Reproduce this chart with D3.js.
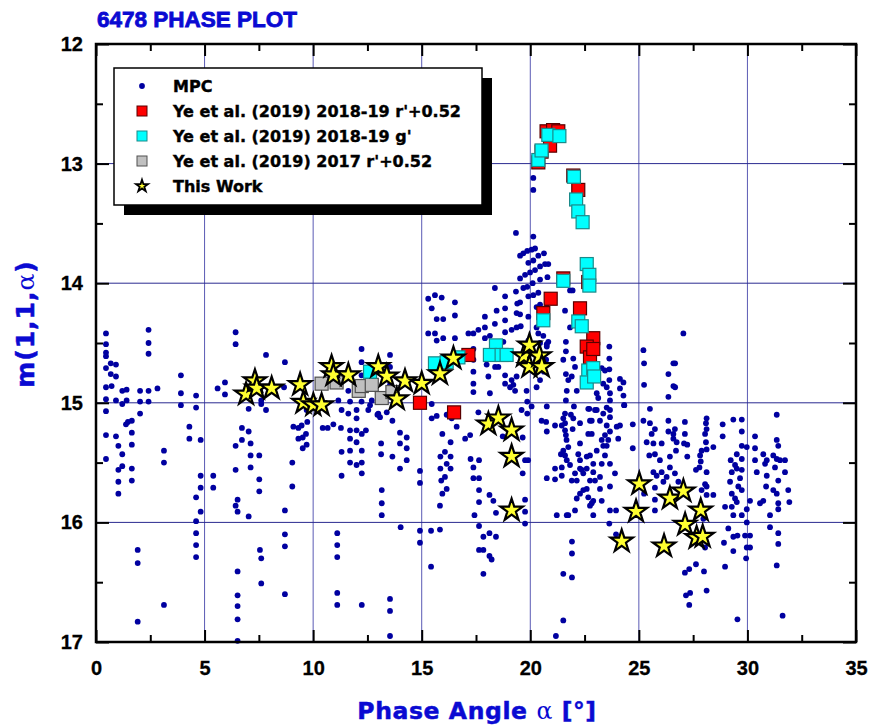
<!DOCTYPE html>
<html>
<head>
<meta charset="utf-8">
<script src="https://cdn.jsdelivr.net/npm/d3@7"></script>
<style>
  body { margin: 0; background: #fff; }
  text { font-family: "Liberation Sans", Arial, sans-serif; font-weight: bold; }
  .heavy { font-family: "DejaVu Sans", sans-serif; font-weight: bold; }
</style>
</head>
<body>
<div id="chart"></div>
<script>
const width = 872;
const height = 727;

// MPC observations [phase angle, reduced mag]
const mpc = [
  [0.46,14.42],[0.46,14.51],[0.46,14.58],[0.46,14.61],[0.46,14.71],[0.46,14.87],[0.46,14.97],[0.46,15.07],[0.46,15.27],[0.46,15.47],
  [0.68,14.67],[0.92,14.68],[0.68,14.76],[0.92,14.78],[0.72,14.86],[0.92,14.98],[0.92,15.28],[1.03,15.36],[1.03,15.56],[1.03,15.66],
  [1.03,15.76],[1.21,15.43],[1.21,15.53],[1.21,15.01],[1.21,14.90],[1.41,14.89],[1.41,14.98],[1.38,15.18],[1.47,15.16],[1.65,15.15],
  [1.65,15.25],[1.65,15.35],[1.65,15.55],[1.65,15.65],[2.03,14.90],[2.03,14.99],[2.03,15.09],[1.92,16.23],[1.92,16.34],[1.92,16.83],
  [2.42,14.39],[2.42,14.50],[2.42,14.59],[2.42,14.90],[2.42,14.99],[2.83,14.88],[3.13,15.40],[3.13,15.50],[3.13,16.69],
  [3.91,14.77],[3.91,14.92],[3.91,15.02],[4.30,15.20],[4.30,15.30],[4.61,14.94],[4.61,15.04],[4.82,15.31],[4.82,15.61],[4.82,15.71],
  [4.82,15.91],[4.61,15.79],[4.61,15.99],[4.61,16.09],[4.61,16.19],[4.61,16.29],[5.40,15.61],[5.40,15.71],[5.60,14.88],[5.94,14.83],[5.94,14.93],
  [6.43,14.41],[6.43,14.51],[6.43,15.36],[6.43,15.56],[6.43,15.86],[6.52,15.81],[6.52,15.91],[6.52,16.41],[6.52,16.61],[6.52,16.70],
  [6.52,16.81],[6.52,16.99],[6.72,15.21],[6.72,15.31],[7.03,15.05],[7.03,15.24],[7.12,15.34],[7.12,15.44],[7.12,15.54],[7.03,15.95],
  [7.52,15.44],[7.52,15.64],[7.52,15.74],[7.61,14.98],[7.61,15.01],[7.83,14.60],[7.83,15.06],[7.55,16.23],[7.61,16.30],[7.61,16.51],
  [8.70,14.66],[8.70,15.90],[8.70,16.10],[8.70,16.20],[8.70,16.60],[8.66,14.87],
  [9.04,15.50],[9.04,15.70],[9.09,15.20],[9.32,15.21],[9.47,15.19],[9.32,15.30],[9.52,15.29],[9.67,15.26],[9.73,15.16],[9.52,15.38],[9.70,15.35],[9.70,15.06],
  [10.44,15.21],[10.67,15.21],[10.93,15.18],[11.28,15.21],[11.31,15.41],[11.31,15.61],[11.11,16.09],[11.11,16.19],[11.11,16.29],[11.11,16.59],[11.11,16.69],
  [11.70,15.23],[11.70,15.30],[11.70,15.40],[11.70,15.50],[12.00,15.13],[12.00,15.23],[12.00,15.33],[12.00,15.52],[12.24,15.26],[12.24,15.40],
  [12.24,15.50],[12.24,15.59],[12.43,15.23],[12.24,16.69],
  [12.96,15.10],[13.13,15.34],[13.13,15.43],[13.16,15.73],[13.16,15.84],[13.16,15.94],[13.54,16.64],[13.54,16.74],[13.54,16.95],[13.65,15.15],
  [13.65,15.45],[14.00,15.25],[14.00,15.34],[14.00,15.55],[14.31,15.29],[14.31,15.38],[14.31,15.48],[14.03,16.04],
  [14.92,15.57],[14.92,15.67],[14.92,16.07],[14.92,16.17],[15.43,16.07],[15.43,16.37],[15.46,15.01],[15.84,16.06],[15.84,15.86],[15.95,15.26],
  [15.86,15.45],[15.86,15.55],[15.90,15.65],[15.95,15.76],[16.07,15.41],[16.15,15.51],[16.07,15.62],[16.15,15.72],[16.33,15.33],[16.33,15.45],
  [16.33,15.55],[16.15,15.10],[16.61,15.20],[17.00,15.30],[17.23,15.27],
  [17.25,15.47],[17.38,15.54],[17.38,15.63],[17.61,15.08],[17.64,15.48],[17.64,15.63],[17.64,15.73],[17.64,15.83],[17.43,15.94],
  [17.64,16.03],[17.64,16.23],[17.84,16.23],[17.84,16.43],[17.84,16.12],
  [18.12,15.77],[18.30,15.82],[18.12,16.09],[18.42,16.12],[18.12,16.28],[18.22,16.31],[18.42,15.92],[19.22,14.85],[18.73,15.28],
  [19.76,15.48],[19.65,15.59],[19.76,15.81],[19.76,15.91],[19.76,16.01],[20.06,15.03],[20.76,15.03],[20.76,15.24],[20.52,15.15],[20.73,15.16],
  [20.76,15.63],[21.14,15.64],[21.22,15.94],[21.68,15.94],[21.18,16.95],[21.52,16.43],[21.52,16.82],[21.92,16.16],[21.92,16.26],[21.92,16.46],
  [19.65,15.29],[19.90,15.48],
  [21.14,15.19],[21.45,15.19],[21.60,15.17],[21.52,15.13],[21.60,15.23],[21.64,15.27],[21.67,15.31],[21.75,15.37],[21.52,15.40],[21.41,15.43],
  [21.60,15.44],[21.68,15.48],[21.83,15.52],[21.45,15.54],[21.14,15.55],[21.45,15.61],[21.91,15.65],[22.14,15.65],[22.37,15.56],[22.29,15.48],
  [22.21,15.43],[22.29,15.34],[21.95,15.22],[21.98,15.13],[21.87,15.10],[22.29,15.17],[22.67,15.05],[23.06,15.06],[22.75,15.15],[22.67,15.26],
  [22.83,15.26],[23.21,15.15],[23.52,15.19],[23.67,15.12],[23.98,15.20],[24.13,15.19],[23.67,15.24],[23.44,15.27],[23.29,15.31],[23.36,15.36],
  [23.59,15.31],[23.52,15.36],[23.06,15.40],[22.75,15.44],[22.60,15.45],[22.90,15.51],[22.60,15.55],[22.29,15.55],[22.06,15.59],[22.44,15.59],
  [22.75,15.65],[22.90,15.58],[22.98,15.65],[23.21,15.62],[23.29,15.51],[23.67,15.51],[23.44,15.44],[24.05,15.30],[23.90,15.59],[23.67,15.70],
  [23.21,15.72],[23.29,15.82],[22.90,15.82],[22.75,15.86],[22.67,15.79],[22.60,15.72],[22.44,15.73],[22.29,15.76],[22.14,15.80],[22.06,15.90],
  [21.75,15.94],[22.90,15.94],[22.83,15.84],[23.67,15.90],[23.95,15.90],[23.64,16.01],[24.33,15.02],[24.72,15.18],[24.72,15.38],[25.21,15.15],
  [25.51,15.17],[25.74,15.22],[25.59,15.26],[25.36,15.33],[25.67,15.34],[25.74,15.43],[25.48,15.44],[25.97,15.48],[26.05,15.34],[26.36,15.24],
  [26.36,15.15],[26.59,15.26],[26.74,15.33],[26.71,15.40],[26.43,15.45],[25.67,15.58],[25.82,15.61],[26.05,15.58],[25.74,15.71],[25.74,15.81],
  [25.74,15.90],[26.13,15.66],[26.28,15.62],[26.43,15.54],[26.66,15.59],[26.82,15.66],[26.90,15.73],[26.28,15.82],[25.24,15.76],[23.95,16.10],
  [26.66,15.22],[26.59,15.30],
  [27.12,15.16],[27.12,15.26],[27.08,15.34],[27.23,15.35],[27.23,15.45],
  [28.12,15.13],[28.09,15.17],[28.12,15.22],[28.05,15.26],[28.09,15.33],[27.89,15.40],[27.82,15.44],[27.85,15.49],[27.79,15.54],[27.63,15.56],
  [28.12,15.39],[28.43,15.37],[28.12,15.58],[28.05,15.68],[28.12,15.70],[28.12,15.77],[28.43,15.77],[27.89,15.73],
  [28.86,15.18],[28.86,15.28],[29.35,15.14],[29.74,15.14],[29.74,15.24],[29.74,15.36],[29.97,15.37],[29.51,15.43],[29.74,15.47],[29.23,15.48],
  [29.43,15.52],[29.51,15.55],[29.74,15.56],[29.28,15.58],[29.20,15.66],[29.66,15.63],[29.58,15.70],[29.74,15.73],[29.28,15.76],[29.43,15.80],
  [29.51,15.83],[29.28,15.87],[28.97,15.87],[29.35,15.94],[29.74,15.94],[29.97,15.89],[29.97,16.00],[30.12,15.82],[30.35,15.28],[30.35,15.38],
  [30.35,15.48],[30.43,15.58],[30.73,15.43],[30.81,15.51],[30.89,15.61],[30.73,15.82],[30.58,15.84],[31.04,15.94],[30.86,15.70],[30.89,15.48],
  [31.35,15.10],[31.35,15.31],[31.42,15.36],[31.19,15.44],[31.35,15.47],[31.50,15.48],[31.27,15.54],[31.73,15.48],[31.73,15.58],[31.42,15.65],
  [31.19,15.73],[31.35,15.76],[31.42,15.84],[31.42,15.89],[31.88,15.73],[31.93,15.83],[31.04,16.04],[31.42,16.09],[31.42,16.18],[31.35,16.36],[31.62,16.78],
  [29.89,16.11],[29.97,16.21],[30.12,16.21],[29.94,16.30],[30.12,16.11],
  [29.12,16.05],[29.35,16.12],[29.54,16.11],[28.92,16.17],[29.35,16.24],[28.97,16.37],
  [28.05,16.21],[28.00,16.41],[28.12,16.57],[27.63,16.35],[27.32,16.39],[27.12,16.42],[27.36,16.59],[27.17,16.61],[27.32,16.69],[29.54,16.81],[27.97,15.97],
  [27.05,14.42],[25.21,14.56],[25.24,14.67],[25.24,14.85],[26.36,14.76],[26.59,14.67],[26.67,14.67],[26.59,14.86],[26.67,14.87],[26.36,14.95],
  [23.64,14.53],[23.64,14.63],[23.64,14.72],[23.64,14.81],[23.52,14.87],[23.67,14.92],[23.67,14.98],[23.52,15.04],
  [24.13,14.80],[24.29,14.83],[24.13,14.88],[24.29,14.94],[24.32,15.02],[25.51,15.05],[22.72,15.05],[22.98,15.06],[23.13,14.96],
  [19.34,13.58],[20.14,13.61],[19.53,13.77],[19.68,13.75],[19.86,13.73],[20.06,13.72],[20.22,13.71],[19.91,13.83],[20.14,13.81],[20.37,13.77],
  [20.63,13.75],[19.53,13.96],[19.76,13.93],[19.99,13.91],[20.22,13.89],[20.45,13.86],[20.68,13.84],[20.83,13.84],[19.68,14.04],[19.86,14.03],
  [20.11,14.00],[20.45,13.97],[20.79,13.95],[19.34,14.07],[19.53,14.16],[19.40,14.17],[19.91,14.11],[20.14,14.10],[20.37,14.08],[19.37,14.25],
  [19.53,14.26],[19.91,14.28],[20.29,14.20],[20.45,14.18],[20.76,14.20],[19.14,14.39],[19.37,14.37],[19.56,14.36],[20.29,14.37],[20.37,14.42],
  [20.60,14.44],[19.91,14.48],[20.45,14.50],[20.76,14.51],[18.84,14.11],[18.84,14.21],[18.84,14.31],[18.84,14.41],[18.76,14.49],[18.37,14.04],
  [18.45,14.23],[18.37,14.34],[18.14,14.44],[17.91,14.28],[17.91,14.37],[17.91,14.46],[17.61,14.39],[17.38,14.42],[17.15,14.42],
  [16.53,14.16],[16.53,14.27],[16.53,14.46],[17.38,14.55],[17.38,14.64],[17.38,14.74],[17.38,14.84],[17.38,14.91],[17.99,14.68],[18.38,14.70],
  [18.53,14.70],[18.07,14.78],[18.84,14.77],[18.84,14.84],[18.14,14.92],[19.07,14.87],[19.14,14.81],[19.37,14.78],[19.30,14.90],[19.83,14.90],
  [19.86,14.99],[19.86,15.09],[19.60,15.06],[20.83,14.49],[20.76,14.53],[20.73,14.64],[20.63,14.74],[20.45,14.81],[20.29,14.87],[21.60,14.23],
  [21.64,14.49],[21.64,14.57],[21.52,14.64],[21.64,14.76],[21.75,14.81],[21.68,14.90],[21.64,14.98],[21.60,15.09],[21.83,14.06],[21.95,14.06],
  [21.83,14.37],[21.98,14.63],[22.06,14.70],[21.91,14.78],[22.14,14.90],[22.01,15.03],[23.29,14.71],[23.44,14.73],[23.36,14.84],[23.06,14.92],
  [22.83,15.15],[23.36,15.09],[23.67,15.06],
  [15.30,14.13],[15.61,14.10],[15.92,14.12],[15.46,14.21],[15.69,14.30],[15.99,14.30],[15.30,14.42],[15.61,14.42],[15.69,14.48],[15.99,14.46],
  [12.23,14.55],[12.23,14.66],[13.54,14.60],[13.54,14.70],[12.23,14.77],[12.23,14.85],[11.62,14.90],[11.70,14.99],[11.31,15.06],[11.62,15.09],
  [12.00,15.06],[12.23,14.99],[12.62,15.02],[13.00,15.09],[13.39,15.08],[13.31,14.99],[13.54,14.95],[20.14,13.12],[20.14,13.22],
  [11.16,14.98],[12.54,15.06],[12.70,14.98],[13.54,14.85],[13.08,15.12],[15.46,15.13],[16.38,15.13],[15.69,15.11]
];

// Ye et al. (2019) 2018-19 r'+0.52
const yeR = [
  [20.37,12.99],[20.52,12.90],[20.75,12.73],[20.91,12.85],[21.05,12.72],[21.29,12.73],[21.98,13.10],[22.21,13.22],
  [21.52,13.96],[22.67,13.99],[20.94,14.13],[20.60,14.25],[22.29,14.21],[22.90,14.46],[22.60,14.53],[22.75,14.62],
  [22.90,14.55],[17.15,14.60],[14.92,15.00],[16.49,15.08]
];
// Ye et al. (2019) 2018-19 g'
const yeG = [
  [20.37,12.97],[20.52,12.89],[20.83,12.76],[21.34,12.77],[22.01,13.11],[22.11,13.30],[22.21,13.40],[22.41,13.49],
  [22.60,13.84],[22.72,13.93],[22.72,14.02],[21.52,13.98],[20.60,14.31],[22.21,14.32],[22.37,14.36],[22.67,14.73],
  [22.90,14.71],[22.60,14.83],[22.94,14.78],[18.42,14.52],[18.14,14.60],[18.68,14.60],[18.91,14.60],[15.61,14.67],
  [16.15,14.66],[16.69,14.62],[12.62,14.74]
];
// Ye et al. (2019) 2017 r'+0.52
const ye17 = [
  [10.39,14.84],[11.08,14.83],[12.10,14.90],[12.24,14.86],[12.70,14.85],[13.16,14.96],[13.65,14.91]
];
// This Work
const thisWork = [
  [6.91,14.92],[7.32,14.81],[7.40,14.87],[8.09,14.87],[9.40,14.84],[9.55,14.99],[10.01,15.01],[10.39,15.01],
  [10.85,14.69],[10.93,14.76],[11.62,14.76],[13.00,14.69],[13.39,14.77],[13.85,14.96],[14.23,14.81],[15.00,14.83],
  [15.84,14.75],[16.46,14.62],[18.07,15.17],[18.53,15.12],[19.14,15.22],[19.14,15.44],[19.14,15.89],[19.71,14.60],
  [19.96,14.51],[19.96,14.69],[20.42,14.60],[20.53,14.69],[24.21,16.15],[24.87,15.90],[25.02,15.67],[26.16,16.19],
  [26.43,15.79],[27.05,15.73],[27.13,16.01],[27.66,16.12],[27.85,15.89],[27.94,16.11]
];

const xTicks = [0, 5, 10, 15, 20, 25, 30, 35];
const yTicks = [12, 13, 14, 15, 16, 17];
const legendLabels = ["MPC", "Ye et al. (2019) 2018-19 r'+0.52", "Ye et al. (2019) 2018-19 g'", "Ye et al. (2019) 2017 r'+0.52", "This Work"];

const blue = "#0a0ad2";
const x = d3.scaleLinear().domain([0, 35]).range([96, 856]);
const y = d3.scaleLinear().domain([12, 17]).range([44, 642]);

const svg = d3.select("#chart").append("svg")
  .attr("width", width)
  .attr("height", height);

// grid
svg.append("g").selectAll("line")
  .data(xTicks.slice(1, -1))
  .join("line")
  .attr("x1", d => x(d)).attr("x2", d => x(d))
  .attr("y1", y(12)).attr("y2", y(17))
  .attr("stroke", "#5a5ab4").attr("stroke-width", 1);
svg.append("g").selectAll("line")
  .data(yTicks.slice(1, -1))
  .join("line")
  .attr("y1", d => y(d)).attr("y2", d => y(d))
  .attr("x1", x(0)).attr("x2", x(35))
  .attr("stroke", "#2a2a90").attr("stroke-width", 1);

const plot = svg.append("g");
const sq = 13;

plot.append("g").selectAll("circle")
  .data(mpc)
  .join("circle")
  .attr("cx", d => x(d[0]))
  .attr("cy", d => y(d[1]))
  .attr("r", 2.9)
  .attr("fill", "#0000a0");

function squares(data, fill, stroke) {
  plot.append("g").selectAll("rect")
    .data(data)
    .join("rect")
    .attr("x", d => x(d[0]) - sq / 2)
    .attr("y", d => y(d[1]) - sq / 2)
    .attr("width", sq)
    .attr("height", sq)
    .attr("fill", fill)
    .attr("stroke", stroke)
    .attr("stroke-width", 1.2);
}
squares(yeR, "#ff0000", "#5a0000");
squares(ye17, "#c0c0c0", "#505050");
squares(yeG, "#00ffff", "#1a8a8a");

const star = d3.symbol().type(d3.symbolStar).size(155);
plot.append("g").selectAll("path")
  .data(thisWork)
  .join("path")
  .attr("d", star)
  .attr("transform", d => `translate(${x(d[0])},${y(d[1]) + 1})`)
  .attr("fill", "#ffff30")
  .attr("stroke", "#000")
  .attr("stroke-width", 2.2)
  .attr("stroke-linejoin", "miter");

// axes: major ticks with labels, minor ticks
const axes = svg.append("g");
function ticks(axisFn, scale, vals, size, transform, labels) {
  const a = axisFn(scale).tickValues(vals).tickSizeInner(size).tickSizeOuter(0)
    .tickFormat(labels ? d3.format("d") : "");
  const g = axes.append("g").attr("transform", transform).call(a);
  g.select(".domain").remove();
  g.selectAll(".tick line").attr("stroke", "#000").attr("stroke-width", 2);
  return g;
}
const xMinor = d3.range(2.5, 35, 5);
const yMinor = d3.range(12.5, 17, 1);

const gx = ticks(d3.axisBottom, x, xTicks, -12, `translate(0,${y(17)})`, true);
gx.selectAll("text").attr("font-size", 20).attr("fill", "#000").attr("dy", "1.5em")
  .attr("stroke", "#000").attr("stroke-width", 0.3)
  .style("font-family", "'Liberation Sans', Arial, sans-serif").style("font-weight", "bold");
ticks(d3.axisBottom, x, xMinor, -7, `translate(0,${y(17)})`, false);
ticks(d3.axisTop, x, xTicks, -12, `translate(0,${y(12)})`, false);
ticks(d3.axisTop, x, xMinor, -7, `translate(0,${y(12)})`, false);

const gy = ticks(d3.axisLeft, y, yTicks, -13, `translate(${x(0)},0)`, true);
gy.selectAll("text").attr("font-size", 20).attr("fill", "#000").attr("x", -13)
  .attr("stroke", "#000").attr("stroke-width", 0.3)
  .style("font-family", "'Liberation Sans', Arial, sans-serif").style("font-weight", "bold");
ticks(d3.axisLeft, y, yMinor, -7, `translate(${x(0)},0)`, false);
ticks(d3.axisRight, y, yTicks, -13, `translate(${x(35)},0)`, false);
ticks(d3.axisRight, y, yMinor, -7, `translate(${x(35)},0)`, false);

// frame
svg.append("rect")
  .attr("x", x(0)).attr("y", y(12))
  .attr("width", x(35) - x(0)).attr("height", y(17) - y(12))
  .attr("fill", "none").attr("stroke", "#000").attr("stroke-width", 2.5);

// legend
const lg = svg.append("g").attr("transform", "translate(114,68)");
lg.append("rect").attr("x", 10).attr("y", 10).attr("width", 368).attr("height", 137).attr("fill", "#000");
lg.append("rect").attr("x", 0).attr("y", 0).attr("width", 368).attr("height", 137)
  .attr("fill", "#fff").attr("stroke", "#000").attr("stroke-width", 1.5);
const rows = lg.selectAll("g.row")
  .data(legendLabels)
  .join("g")
  .attr("class", "row")
  .attr("transform", (d, i) => `translate(28,${18 + i * 25})`);
rows.append("text")
  .attr("class", "heavy")
  .attr("x", 31).attr("y", 6)
  .attr("font-size", 16)
  .attr("fill", "#000")
  .attr("stroke", "#000").attr("stroke-width", 0.4)
  .text(d => d);
rows.each(function (d, i) {
  const g = d3.select(this);
  if (i === 0) {
    g.append("circle").attr("r", 2.9).attr("fill", "#0000a0");
  } else if (i < 4) {
    const c = [["#ff0000", "#5a0000"], ["#00ffff", "#1a8a8a"], ["#c0c0c0", "#505050"]][i - 1];
    g.append("rect").attr("x", -5).attr("y", -5).attr("width", 10).attr("height", 10)
      .attr("fill", c[0]).attr("stroke", c[1]).attr("stroke-width", 1);
  } else {
    g.append("path").attr("d", d3.symbol().type(d3.symbolStar).size(45))
      .attr("fill", "#ffff30").attr("stroke", "#000").attr("stroke-width", 1.8);
  }
});

// titles
svg.append("text")
  .attr("x", 97).attr("y", 27)
  .attr("font-size", 22.5)
  .attr("fill", blue).attr("stroke", blue).attr("stroke-width", 0.8)
  .text("6478 PHASE PLOT");

const xl = svg.append("text")
  .attr("class", "heavy")
  .attr("x", 477).attr("y", 719)
  .attr("text-anchor", "middle")
  .attr("font-size", 23.5)
  .attr("letter-spacing", 0.6)
  .attr("fill", blue).attr("stroke", blue).attr("stroke-width", 0.5);
xl.append("tspan").text("Phase Angle ");
xl.append("tspan").attr("font-weight", "normal").attr("stroke-width", 0).style("font-family", "'DejaVu Serif', serif").text("α");
xl.append("tspan").text(" [°]");

const yl = svg.append("text")
  .attr("class", "heavy")
  .attr("transform", "translate(34,324) rotate(-90)")
  .attr("text-anchor", "middle")
  .attr("font-size", 25)
  .attr("letter-spacing", 1)
  .attr("fill", blue).attr("stroke", blue).attr("stroke-width", 0.5);
yl.append("tspan").text("m(1,1,");
yl.append("tspan").attr("font-weight", "normal").attr("stroke-width", 0).style("font-family", "'DejaVu Serif', serif").text("α");
yl.append("tspan").text(")");
</script>
</body>
</html>
